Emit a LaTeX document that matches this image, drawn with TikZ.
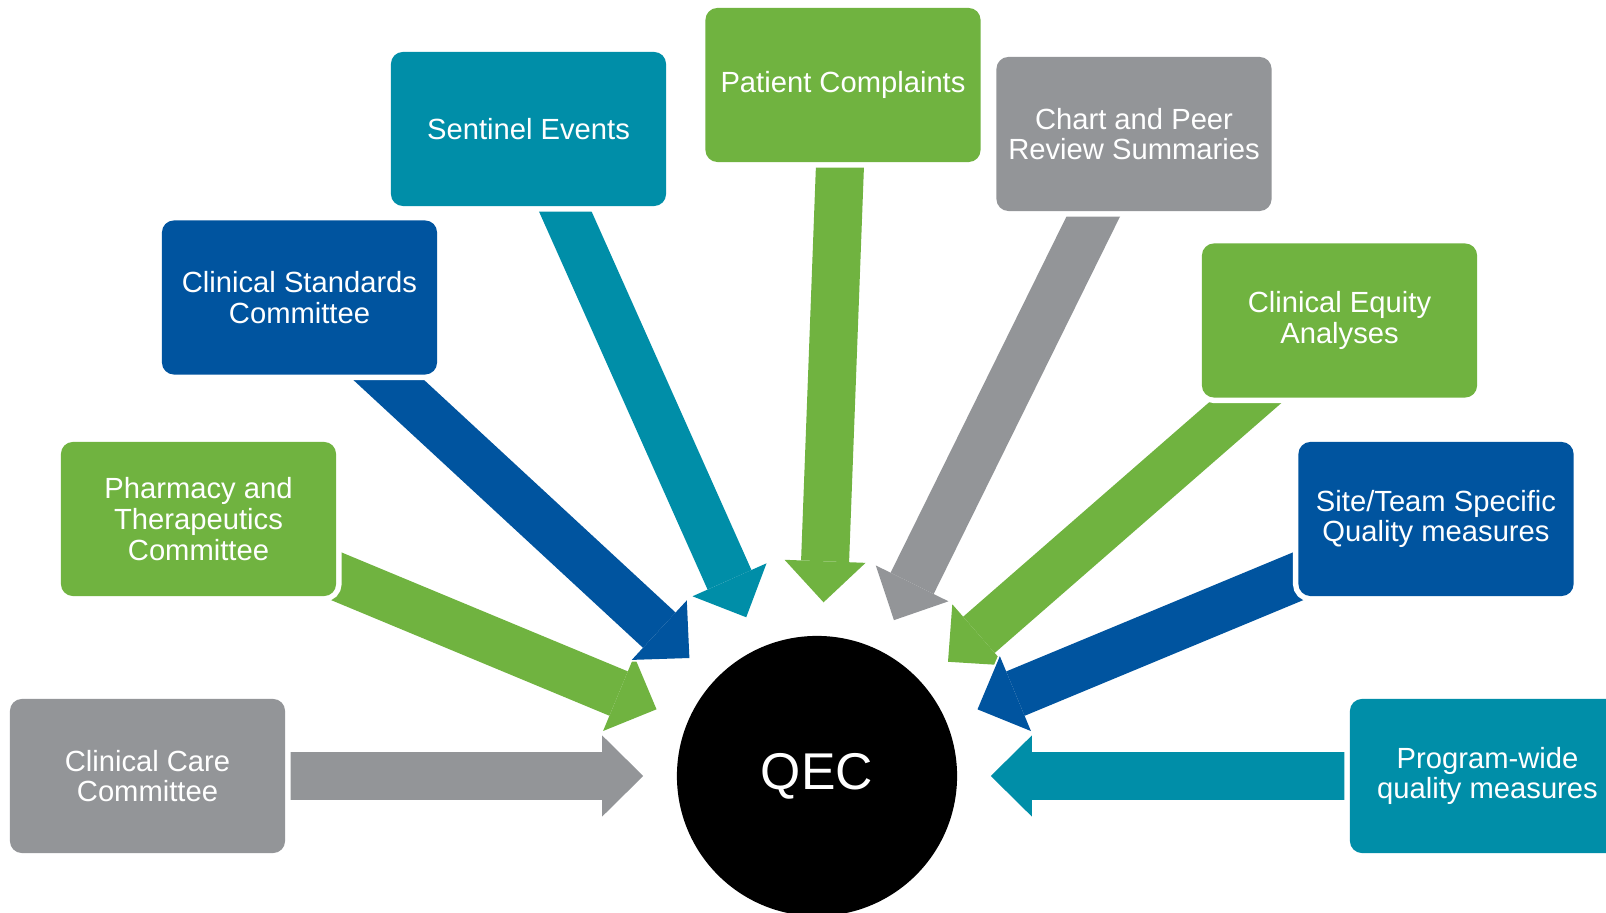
\documentclass[tikz,border=0pt]{standalone}
\usepackage{fontspec}
\setmainfont{Liberation Sans}
\usetikzlibrary{arrows.meta}

\definecolor{qecgray}{RGB}{147,149,152}
\definecolor{qecgreen}{RGB}{112,179,64}
\definecolor{qecblue}{RGB}{0,84,159}
\definecolor{qecteal}{RGB}{0,142,168}

\pgfdeclarelayer{background}
\pgfsetlayers{background,main}

\begin{document}
\begin{tikzpicture}[
    x=0.01cm, y=-0.01cm,
    box style/.style={rectangle, rounded corners=0.12cm, minimum width=2.75cm, minimum height=1.54cm,
        inner sep=0pt, align=center, text=white, font=\fontsize{8.3}{8.75}\selectfont,
        preaction={draw=white, line width=0.11cm}},
    feed style/.style={line width=0.48cm, -{Triangle[length=0.41cm, width=0.81cm, line width=0pt]},
        shorten >=0.33cm,
        preaction={draw=white, line width=0.52cm, -{Triangle[length=0.46cm, width=0.9cm, line width=0pt]}, shorten >=0.3cm}}
]
        \useasboundingbox (0,0) rectangle (1606,913);

        % the committee and measure boxes
        \node[box style, fill=qecgray] (care) at (147.5,776) {Clinical Care\\Committee};
        \node[box style, fill=qecgreen] (pharmacy) at (198.5,519) {Pharmacy and\\Therapeutics\\Committee};
        \node[box style, fill=qecblue] (standards) at (299.5,297.5) {Clinical Standards\\Committee};
        \node[box style, fill=qecteal] (sentinel) at (528.5,129) {Sentinel Events};
        \node[box style, fill=qecgreen] (complaints) at (843,85) {Patient Complaints};
        \node[box style, fill=qecgray] (review) at (1134,134) {Chart and Peer\\Review Summaries};
        \node[box style, fill=qecgreen] (equity) at (1339.5,320.5) {Clinical Equity\\Analyses};
        \node[box style, fill=qecblue] (site) at (1436,519) {Site/Team Specific\\Quality measures};
        \node[box style, fill=qecteal] (program) at (1487.5,776) {Program-wide\\quality measures};

        \node[circle, fill=black, minimum size=2.8cm, inner sep=0pt, text=white,
            font=\fontsize{14.7}{16}\selectfont] (qec) at (817,776) {QEC};

        % block arrows sit under the boxes
        \begin{pgfonlayer}{background}
        \draw[feed style, qecgray] (care.center) -- (qec);
        \draw[feed style, qecgreen] (pharmacy.center) -- (qec);
        \draw[feed style, qecblue] (standards.center) -- (qec);
        \draw[feed style, qecteal] (sentinel.center) -- (qec);
        \draw[feed style, qecgreen] (complaints.center) -- (qec);
        \draw[feed style, qecgray] (review.center) -- (qec);
        \draw[feed style, qecgreen] (equity.center) -- (qec);
        \draw[feed style, qecblue] (site.center) -- (qec);
        \draw[feed style, qecteal] (program.center) -- (qec);
        \end{pgfonlayer}
    \end{tikzpicture}
\end{document}
